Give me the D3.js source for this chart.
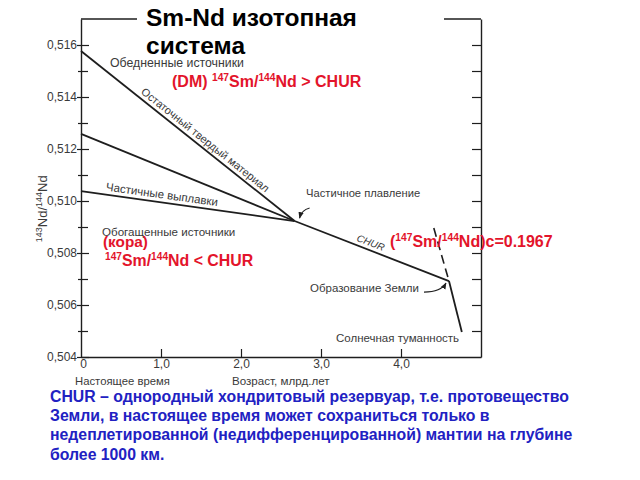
<!DOCTYPE html>
<html><head><meta charset="utf-8">
<script src="https://cdn.jsdelivr.net/npm/d3@7"></script>
<style>
html,body{margin:0;padding:0;background:#fff;}
svg{display:block;}
</style></head>
<body>
<svg id="chart" width="640" height="480"></svg>
<script>
// ---- data ----
const yTicks = [0.504, 0.506, 0.508, 0.510, 0.512, 0.514, 0.516];
const yTickLabels = ["0,504", "0,506", "0,508", "0,510", "0,512", "0,514", "0,516"];
const yMinorTicks = [0.505, 0.507, 0.509, 0.511, 0.513, 0.515];
const yRightTicks = [0.505, 0.506, 0.507, 0.508, 0.509, 0.510, 0.511, 0.512, 0.513, 0.514, 0.515, 0.516];
const xTicks = [0, 1, 2, 3, 4];
const xTickLabels = ["0", "1,0", "2,0", "3,0", "4,0"];
const xInnerTicks = [1, 2, 3, 4];

const depletedAges = [0, 2.67];
const depletedValues = [0.51577, 0.50923];
const residualAges = [0, 2.67];
const residualValues = [0.51258, 0.50923];
const meltAges = [0, 2.67];
const meltValues = [0.51038, 0.50923];
const churAges = [2.67, 4.6];
const churValues = [0.50923, 0.50692];
const nebulaAges = [4.6, 4.76];
const nebulaValues = [0.50692, 0.50496];
const dashedAges = [4.41, 4.6];
const dashedValues = [0.50896, 0.50692];

const titleLines = ["Sm-Nd изотопная", "система"];
const noteLines = [
  "CHUR – однородный хондритовый резервуар, т.е. протовещество",
  "Земли, в настоящее время может сохраниться только в",
  "недеплетированной (недифференцированной) мантии на глубине",
  "более 1000 км."
];

// ---- setup ----
const svg = d3.select("#chart");
const x = d3.scaleLinear().domain([0, 5]).range([81, 481]);
const y = d3.scaleLinear().domain([0.504, 0.517]).range([357, 19]);
const FONT = "'Liberation Sans', Arial, sans-serif";
const GRAY = "#3a3a3a";
const RED = "#e3142b";
const BLUE = "#2121c2";
const LINE = "#1e1e1e";

svg.append("rect").attr("width", 640).attr("height", 480).attr("fill", "#fff");

// top frame line
svg.append("line").attr("x1", x(0)).attr("x2", x(5)).attr("y1", y(0.517)).attr("y2", y(0.517))
  .attr("stroke", LINE).attr("stroke-width", 1.4);

// left axis (ticks cross the axis line)
const gl = svg.append("g").attr("transform", `translate(${x(0)},0)`)
  .call(d3.axisLeft(y).tickValues(yTicks).tickFormat((d, i) => yTickLabels[i]).tickSize(-8).tickSizeOuter(0).tickPadding(4));
const gl2 = svg.append("g").attr("transform", `translate(${x(0)},0)`)
  .call(d3.axisLeft(y).tickValues(yMinorTicks).tickFormat("").tickSize(-7).tickSizeOuter(0));
gl2.select(".domain").remove();
gl.selectAll(".tick line").attr("x1", -4);
gl2.selectAll(".tick line").attr("x1", -3);
// right axis (ticks inward)
const gr = svg.append("g").attr("transform", `translate(${x(5)},0)`)
  .call(d3.axisLeft(y).tickValues(yRightTicks).tickFormat("").tickSize(9).tickSizeOuter(0));
// bottom axis
const gb = svg.append("g").attr("transform", `translate(0,${y(0.504)})`)
  .call(d3.axisBottom(x).tickValues(xTicks).tickFormat((d, i) => xTickLabels[i]).tickSize(0).tickPadding(2));
const gb2 = svg.append("g").attr("transform", `translate(0,${y(0.504)})`)
  .call(d3.axisTop(x).tickValues(xInnerTicks).tickFormat("").tickSize(8).tickSizeOuter(0));
gb2.select(".domain").remove();

[gl, gl2, gr, gb, gb2].forEach(g => {
  g.selectAll(".domain").attr("stroke", LINE).attr("stroke-width", 1.4);
  g.selectAll(".tick line").attr("stroke", LINE).attr("stroke-width", 1.2);
  g.selectAll(".tick text").attr("fill", GRAY).style("font-family", FONT).style("font-size", "12px");
});
gb.selectAll(".tick text").attr("dx", (d) => d === 0 ? 2 : 0);

// lines
const line = d3.line().x(d => x(d[0])).y(d => y(d[1]));
function series(ages, vals) { return ages.map((a, i) => [a, vals[i]]); }
const solid = [
  series(depletedAges, depletedValues),
  series(residualAges, residualValues),
  series(meltAges, meltValues),
  series(churAges, churValues),
  series(nebulaAges, nebulaValues)
];
svg.append("g").selectAll("path").data(solid).join("path")
  .attr("d", line).attr("fill", "none").attr("stroke", LINE).attr("stroke-width", 1.8);
svg.append("path").datum(series(dashedAges, dashedValues)).attr("d", line)
  .attr("fill", "none").attr("stroke", LINE).attr("stroke-width", 1.6).attr("stroke-dasharray", "9,5");

// helper: label along a line
function alongLabel(ages, vals, atAge, text, opts) {
  const ang = Math.atan2(y(vals[1]) - y(vals[0]), x(ages[1]) - x(ages[0])) * 180 / Math.PI;
  const v = vals[0] + (vals[1] - vals[0]) * (atAge - ages[0]) / (ages[1] - ages[0]);
  svg.append("text").attr("transform", `translate(${x(atAge)},${y(v)}) rotate(${ang})`)
    .attr("dy", opts.dy).attr("fill", GRAY).style("font-family", FONT)
    .style("font-size", opts.size + "px").style("font-style", opts.italic ? "italic" : "normal")
    .text(text);
}
alongLabel(depletedAges, depletedValues, 0.71, "Остаточный твердый материал", { dy: -4, size: 11 });
alongLabel(meltAges, meltValues, 0.3, "Частичные выплавки", { dy: -4, size: 11.5 });
alongLabel(churAges, churValues, 3.42, "CHUR", { dy: -4, size: 10, italic: true });

// plain gray labels
function grayLabel(px, py, text, size) {
  svg.append("text").attr("x", px).attr("y", py).attr("fill", GRAY)
    .style("font-family", FONT).style("font-size", (size || 11) + "px").text(text);
}
grayLabel(110, 67, "Обедненные источники", 12.3);
grayLabel(102, 236, "Обогащенные источники", 11.6);
grayLabel(306, 197, "Частичное плавление", 11.2);
grayLabel(310, 292, "Образование Земли", 11.5);
grayLabel(336, 342, "Солнечная туманность", 11.5);
grayLabel(75, 385, "Настоящее время", 11.3);
grayLabel(232, 385, "Возраст, млрд.лет", 11.6);

// y axis label
const yl = svg.append("text").attr("transform", `translate(47,${y(0.5097)}) rotate(-90)`)
  .attr("text-anchor", "middle").attr("fill", GRAY).style("font-family", FONT).style("font-size", "13px");
yl.append("tspan").attr("font-size", "9px").attr("dy", "-5").text("143");
yl.append("tspan").attr("dy", "5").text("Nd/");
yl.append("tspan").attr("font-size", "9px").attr("dy", "-5").text("144");
yl.append("tspan").attr("dy", "5").text("Nd");

// arrows
svg.append("defs").append("marker").attr("id", "ah").attr("viewBox", "0 0 10 10")
  .attr("refX", 9).attr("refY", 5).attr("markerWidth", 6).attr("markerHeight", 6).attr("orient", "auto")
  .append("path").attr("d", "M0,1 L10,5 L0,9 Z").attr("fill", LINE);
const P = [x(churAges[0]), y(churValues[0])];
svg.append("path").attr("d", `M${P[0] + 15},${P[1] - 13} Q${P[0] + 7},${P[1] - 11} ${P[0] + 5},${P[1] - 3}`)
  .attr("fill", "none").attr("stroke", LINE).attr("stroke-width", 1.1).attr("marker-end", "url(#ah)");
const E = [x(churAges[1]), y(churValues[1])];
svg.append("path").attr("d", `M${E[0] - 25},${E[1] + 11} Q${E[0] - 8},${E[1] + 11} ${E[0] - 3},${E[1] + 2}`)
  .attr("fill", "none").attr("stroke", LINE).attr("stroke-width", 1.1).attr("marker-end", "url(#ah)");

// rich red text
function rich(px, py, parts, size, color) {
  const t = svg.append("text").attr("x", px).attr("y", py).attr("fill", color)
    .style("font-family", FONT).style("font-weight", "bold").style("font-size", size + "px");
  let up = false;
  parts.forEach(p => {
    const isSup = p[1];
    const ts = t.append("tspan").text(p[0]);
    if (isSup && !up) { ts.attr("dy", -size * 0.38).style("font-size", (size * 0.64) + "px"); up = true; }
    else if (isSup) { ts.style("font-size", (size * 0.64) + "px"); }
    else if (!isSup && up) { ts.attr("dy", size * 0.38); up = false; }
  });
}
rich(172, 87, [["(DM) ", 0], ["147", 1], ["Sm/", 0], ["144", 1], ["Nd > CHUR", 0]], 16, RED);
rich(103, 247, [["(кора)", 0]], 15.3, RED);
rich(105, 266, [["147", 1], ["Sm/", 0], ["144", 1], ["Nd < CHUR", 0]], 15.9, RED);
rich(390, 247, [["(", 0], ["147", 1], ["Sm/", 0], ["144", 1], ["Nd)c=0.1967", 0]], 16, RED);

// title with white background
svg.append("rect").attr("x", 137).attr("y", 0).attr("width", 307).attr("height", 36).attr("fill", "#fff");
const tt = svg.append("text").attr("fill", "#000").style("font-family", FONT).style("font-weight", "bold").style("font-size", "24.5px");
titleLines.forEach((l, i) => tt.append("tspan").attr("x", 146).attr("y", 26 + i * 28).text(l));

// blue note
const nt = svg.append("text").attr("fill", BLUE).style("font-family", FONT).style("font-weight", "bold").style("font-size", "15.8px");
noteLines.forEach((l, i) => nt.append("tspan").attr("x", 50).attr("y", 402 + i * 19.2).text(l));
</script>
</body></html>
